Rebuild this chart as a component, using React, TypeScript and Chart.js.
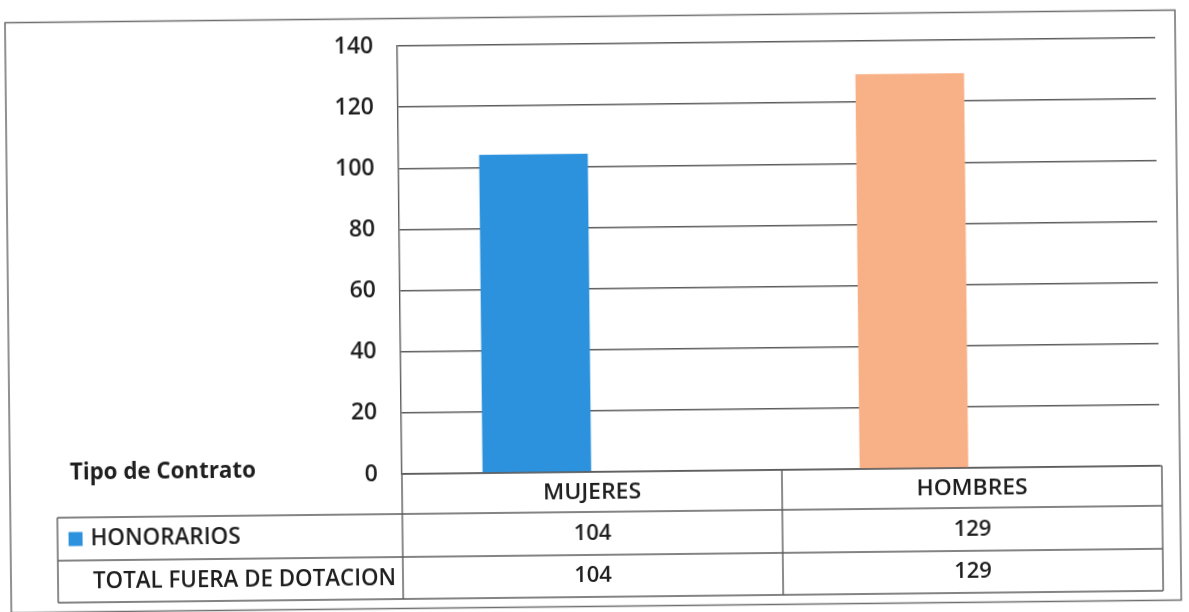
import React, { useEffect, useRef } from "react";
import { Chart, registerables } from "chart.js";

Chart.register(...registerables);

// Data
const categories = ["MUJERES", "HOMBRES"];
const honorarios = [104, 129];
const totalFueraDeDotacion = [104, 129];
const rowLabels = ["HONORARIOS", "TOTAL FUERA DE DOTACION"];
const tableTitle = "Tipo de Contrato";
const yMin = 0;
const yMax = 140;
const yStep = 20;

// Styles
const barColors = ["#2D92DD", "#F8B086"];
const lineColor = "#5c5c5c";
const textColor = "#1e1e1e";
const FONT = "'Open Sans', 'Noto Sans', sans-serif";

// Draws text stretched or squeezed horizontally to a given width
function fitText(
  ctx: CanvasRenderingContext2D,
  text: string,
  left: number,
  y: number,
  width: number
) {
  const w0 = ctx.measureText(text).width;
  ctx.save();
  ctx.textAlign = "left";
  ctx.translate(left, y);
  ctx.scale(width / w0, 1);
  ctx.fillText(text, 0, 0);
  ctx.restore();
}

const tablePlugin = {
  id: "dataTable",
  beforeDraw(chart: any) {
    const { ctx, width, height } = chart;
    ctx.save();
    ctx.fillStyle = "#ffffff";
    ctx.fillRect(0, 0, width, height);
    ctx.restore();
  },
  afterDraw(chart: any) {
    const { ctx, chartArea } = chart;
    const colL = chartArea.left;
    const colR = chartArea.right + 2;
    const colM = (colL + colR) / 2;
    const tableLeft = 55;
    const headerTop = chartArea.bottom;
    const rowTops = [514, 557];
    const tableBottom = 599;

    ctx.save();
    // outer frame
    ctx.strokeStyle = "#6e6e6e";
    ctx.lineWidth = 1.5;
    ctx.strokeRect(8, 18.5, 1170, 590);

    // table grid
    ctx.strokeStyle = lineColor;
    ctx.lineWidth = 1.4;
    ctx.beginPath();
    ctx.moveTo(colL, headerTop);
    ctx.lineTo(colR, headerTop);
    [...rowTops, tableBottom].forEach((y) => {
      ctx.moveTo(tableLeft, y);
      ctx.lineTo(colR, y);
    });
    ctx.moveTo(tableLeft, rowTops[0]);
    ctx.lineTo(tableLeft, tableBottom);
    [colL, colM, colR].forEach((x) => {
      ctx.moveTo(x, headerTop);
      ctx.lineTo(x, tableBottom);
    });
    ctx.stroke();

    ctx.fillStyle = textColor;

    // title of the row-label column
    ctx.font = `bold 23px ${FONT}`;
    ctx.textBaseline = "alphabetic";
    fitText(ctx, tableTitle, 68, 476, 186);

    ctx.textBaseline = "middle";
    ctx.font = `600 22px ${FONT}`;
    const centers = [(colL + colM) / 2, (colM + colR) / 2];
    const headerMid = (headerTop + rowTops[0]) / 2;
    const row1Mid = (rowTops[0] + rowTops[1]) / 2;
    const row2Mid = (rowTops[1] + tableBottom) / 2;
    const headerWidths = [98, 111];
    categories.forEach((c, i) => {
      fitText(ctx, c, centers[i] - headerWidths[i] / 2, headerMid + 1, headerWidths[i]);
      ctx.textAlign = "center";
      ctx.fillText(String(honorarios[i]), centers[i], row1Mid);
      ctx.fillText(String(totalFueraDeDotacion[i]), centers[i], row2Mid);
    });

    // row labels with legend key
    ctx.fillStyle = barColors[0];
    ctx.fillRect(66, row1Mid - 7, 14, 14);
    ctx.fillStyle = textColor;
    ctx.font = `600 23px ${FONT}`;
    fitText(ctx, rowLabels[0], 88, row1Mid, 150);
    fitText(ctx, rowLabels[1], 90, row2Mid, 303);
    ctx.restore();
  },
};

export default function App() {
  const canvasRef = useRef<HTMLCanvasElement | null>(null);

  useEffect(() => {
    const canvas = canvasRef.current;
    if (!canvas) return;
    const chart = new Chart(canvas, {
      type: "bar",
      data: {
        datasets: [
          {
            label: rowLabels[0],
            data: categories.map((_, i) => ({ x: i, y: honorarios[i] })),
            backgroundColor: barColors,
            borderWidth: 0,
            barThickness: 108,
          },
        ],
      },
      options: {
        responsive: false,
        animation: false,
        devicePixelRatio: 1,
        layout: { padding: { left: 0, top: 46, right: 31, bottom: 138 } },
        plugins: {
          legend: { display: false },
          tooltip: { enabled: false },
        },
        scales: {
          x: {
            type: "linear",
            display: false,
            offset: false,
            min: -0.358,
            max: 1.652,
          },
          y: {
            min: yMin,
            max: yMax,
            afterFit: (scale: any) => {
              scale.width = 400;
            },
            ticks: {
              stepSize: yStep,
              padding: 24,
              color: textColor,
              font: { family: FONT, size: 23, weight: "600" },
            },
            grid: {
              color: lineColor,
              lineWidth: 1.4,
              drawTicks: false,
            },
            border: { display: true, color: lineColor, width: 1.4 },
          },
        },
      },
      plugins: [tablePlugin],
    } as any);
    return () => chart.destroy();
  }, []);

  return (
    <div
      style={{
        position: "fixed",
        left: 0,
        top: 0,
        width: 1189,
        height: 612,
        background: "#ffffff",
        overflow: "hidden",
      }}
    >
      <canvas
        ref={canvasRef}
        width={1189}
        height={612}
        style={{
          width: 1189,
          height: 612,
          display: "block",
          transform: "rotate(-0.62deg)",
          transformOrigin: "400px 300px",
        }}
      />
    </div>
  );
}
